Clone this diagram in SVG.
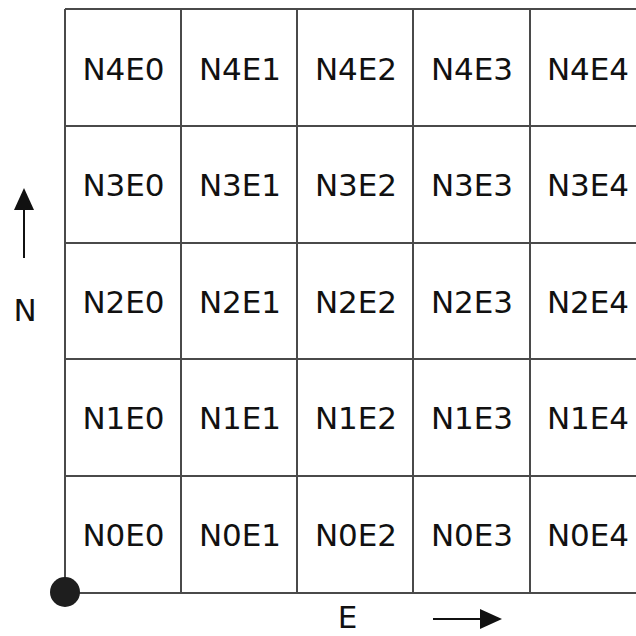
<svg xmlns="http://www.w3.org/2000/svg" width="636" height="636" viewBox="0 0 636 636">
  <style>
    .grid line { stroke: #4a4a4a; stroke-width: 2; }
    .lbl { font-family: "DejaVu Sans", "Liberation Sans", sans-serif; font-size: 31px; fill: #111; text-anchor: middle; }
    .axis line { stroke: #111; stroke-width: 2; }
    .axis polygon { fill: #111; }
  </style>
  <rect width="636" height="636" fill="#fff"/>

  <!-- grid lines -->
  <g class="grid" id="grid">
    <line x1="65" y1="9" x2="636" y2="9"/>
    <line x1="65" y1="126" x2="636" y2="126"/>
    <line x1="65" y1="243" x2="636" y2="243"/>
    <line x1="65" y1="359" x2="636" y2="359"/>
    <line x1="65" y1="476" x2="636" y2="476"/>
    <line x1="65" y1="593" x2="636" y2="593"/>
    <line x1="65" y1="9" x2="65" y2="593"/>
    <line x1="181" y1="9" x2="181" y2="593"/>
    <line x1="297" y1="9" x2="297" y2="593"/>
    <line x1="413" y1="9" x2="413" y2="593"/>
    <line x1="530" y1="9" x2="530" y2="593"/>
  </g>

  <!-- row N4 -->
  <g id="N4E0"><text class="lbl" x="123.5" y="80">N4E0</text></g>
  <g id="N4E1"><text class="lbl" x="240" y="80">N4E1</text></g>
  <g id="N4E2"><text class="lbl" x="356" y="80">N4E2</text></g>
  <g id="N4E3"><text class="lbl" x="472" y="80">N4E3</text></g>
  <g id="N4E4"><text class="lbl" x="588" y="80">N4E4</text></g>
  <!-- row N3 -->
  <g id="N3E0"><text class="lbl" x="123.5" y="196">N3E0</text></g>
  <g id="N3E1"><text class="lbl" x="240" y="196">N3E1</text></g>
  <g id="N3E2"><text class="lbl" x="356" y="196">N3E2</text></g>
  <g id="N3E3"><text class="lbl" x="472" y="196">N3E3</text></g>
  <g id="N3E4"><text class="lbl" x="588" y="196">N3E4</text></g>
  <!-- row N2 -->
  <g id="N2E0"><text class="lbl" x="123.5" y="313">N2E0</text></g>
  <g id="N2E1"><text class="lbl" x="240" y="313">N2E1</text></g>
  <g id="N2E2"><text class="lbl" x="356" y="313">N2E2</text></g>
  <g id="N2E3"><text class="lbl" x="472" y="313">N2E3</text></g>
  <g id="N2E4"><text class="lbl" x="588" y="313">N2E4</text></g>
  <!-- row N1 -->
  <g id="N1E0"><text class="lbl" x="123.5" y="429">N1E0</text></g>
  <g id="N1E1"><text class="lbl" x="240" y="429">N1E1</text></g>
  <g id="N1E2"><text class="lbl" x="356" y="429">N1E2</text></g>
  <g id="N1E3"><text class="lbl" x="472" y="429">N1E3</text></g>
  <g id="N1E4"><text class="lbl" x="588" y="429">N1E4</text></g>
  <!-- row N0 -->
  <g id="N0E0"><text class="lbl" x="123.5" y="546">N0E0</text></g>
  <g id="N0E1"><text class="lbl" x="240" y="546">N0E1</text></g>
  <g id="N0E2"><text class="lbl" x="356" y="546">N0E2</text></g>
  <g id="N0E3"><text class="lbl" x="472" y="546">N0E3</text></g>
  <g id="N0E4"><text class="lbl" x="588" y="546">N0E4</text></g>

  <!-- origin -->
  <g id="origin"><circle cx="65" cy="592" r="15" fill="#1e1e1e"/></g>

  <!-- axis arrows and labels -->
  <g class="axis" id="axes">
    <line x1="24" y1="258" x2="24" y2="206"/>
    <polygon points="14,210 34,210 24,188"/>
    <text class="lbl" x="25" y="321">N</text>
    <line x1="433" y1="619" x2="484" y2="619"/>
    <polygon points="480,609 480,629 502,619"/>
    <text class="lbl" x="347.5" y="628">E</text>
  </g>
</svg>
